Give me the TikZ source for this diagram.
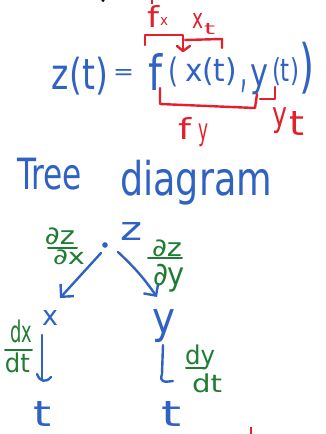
\documentclass[tikz,border=0pt]{standalone}
\usepackage{fontspec}
\usepackage{graphicx}
\setmainfont{DejaVu Sans}
\usetikzlibrary{arrows.meta}
\definecolor{pen}{HTML}{2F62C2}
\definecolor{ink}{HTML}{E3202B}
\definecolor{grn}{HTML}{1F7D33}
\newcommand\fitbox[3]{\resizebox*{#1pt}{#2pt}{#3}}
\begin{document}
\begin{tikzpicture}[x=1pt,y=-1pt,
  txt/.style={anchor=north west,inner sep=0pt,outer sep=0pt},
  stroke/.style={line width=2.4pt,line cap=round,line join=round},
  barb/.style={-{Straight Barb[length=9pt,width=18pt]}}]
\useasboundingbox (0,0) rectangle (326,434);
% top cut-off marks
\fill (103,0.5) circle (1.6);
\draw[ink,line width=2pt] (152,0) -- (152,4);
% equation
\node[txt,pen] (zt) at (52,57) {\fitbox{56}{38}{z(t)}};
\node[txt,pen] (eq) at (113,69) {\fitbox{21}{10}{=}};
\node[txt,pen] (f) at (148,53) {\fitbox{14}{37}{f}};
\node[txt,pen] (lp) at (168,57) {\fitbox{10}{30}{(}};
\node[txt,pen] (xt) at (185,58) {\fitbox{52}{28}{x(t)}};
\node[txt,pen] (cm) at (240,80) {\fitbox{7}{13}{,}};
\node[txt,pen] (yy) at (250,65) {\fitbox{18}{30}{y}};
\node[txt,pen] (tt) at (272,58) {\fitbox{27}{28}{(t)}};
\node[txt,pen] (rp) at (299,42) {\fitbox{15}{52}{)}};
% red labels
\node[txt,ink] (fx1) at (147,5) {\fitbox{12}{22}{f}};
\node[txt,ink] (fx2) at (160,17) {\fitbox{8}{8}{x}};
\node[txt,ink] (xt1) at (192,13) {\fitbox{11}{15}{x}};
\node[txt,ink] (xt2) at (204,23) {\fitbox{11}{11}{t}};
\node[txt,ink] (fy1) at (178,117) {\fitbox{13}{22}{f}};
\node[txt,ink] (fy2) at (198,124) {\fitbox{10}{23}{y}};
\node[txt,ink] (yt1) at (272,108) {\fitbox{15}{26}{y}};
\node[txt,ink] (yt2) at (289,111) {\fitbox{15}{24}{t}};
% red brackets
\draw[stroke,ink] (145,45) -- (145,35) -- (183,35) -- (183,51);
\draw[stroke,ink] (177,46) -- (183,51) -- (190,46);
\draw[stroke,ink] (185,40) -- (222,39) -- (222,48);
\draw[stroke,ink] (160,88) -- (160,104) -- (255,108) -- (257,94);
\draw[stroke,ink] (260,99) -- (275,99) -- (275,87);
% title
\node[txt,pen] (tree) at (17,158) {\fitbox{65}{32}{Tree}};
\node[txt,pen] (diag) at (120,160) {\fitbox{152}{45}{diagram}};
% tree
\node[txt,pen] (z) at (120,222) {\fitbox{22}{18}{z}};
\node[circle,fill=pen,inner sep=2pt] (dot) at (105,245) {};
\coordinate (l0) at (101,253);
\coordinate (l1) at (60,298);
\coordinate (r0) at (118,252);
\coordinate (r1) at (157,297);
\draw[stroke,pen,barb] (l0) -- (l1);
\draw[stroke,pen,barb] (r0) to[bend left=6] (r1);
\node[txt,grn] (pzx1) at (45,228) {\fitbox{30}{17}{∂z}};
\draw[stroke,grn,line width=2pt] (48,248) -- (77,248);
\node[txt,grn] (pzx2) at (53,250) {\fitbox{32}{15}{∂x}};
\node[txt,grn] (pzy1) at (152,240) {\fitbox{30}{17}{∂z}};
\draw[stroke,grn,line width=2pt] (148,258) -- (182,258);
\node[txt,grn] (pzy2) at (153,264) {\fitbox{32}{28}{∂y}};
\node[txt,pen] (x) at (42,310) {\fitbox{16}{15}{x}};
\node[txt,pen] (y) at (152,310) {\fitbox{23}{33}{y}};
\coordinate (a0) at (42,335);
\coordinate (a1) at (42,380);
\draw[stroke,pen] (a0) -- (a1);
\draw[stroke,pen] (37,374) .. controls (40,382) and (46,383) .. (51,377);
\coordinate (b0) at (163,345);
\coordinate (b1) at (162,374);
\draw[stroke,pen] (b0) -- (b1) .. controls (159,383) and (165,382) .. (173,381);
\node[txt,grn] (dx1) at (10,320) {\fitbox{22}{23}{dx}};
\draw[stroke,grn,line width=2pt] (5,350) -- (32,350);
\node[txt,grn] (dx2) at (5,353) {\fitbox{25}{20}{dt}};
\node[txt,grn] (dy1) at (185,345) {\fitbox{30}{25}{dy}};
\draw[stroke,grn,line width=2pt] (186,368) -- (205,368);
\node[txt,grn] (dy2) at (192,374) {\fitbox{30}{19}{dt}};
\node[txt,pen] (tl) at (34,401) {\fitbox{18}{25}{t}};
\node[txt,pen] (tr) at (161,401) {\fitbox{20}{25}{t}};
\draw[ink,line width=2.6pt] (251,427) -- (251,434);
\end{tikzpicture}
\end{document}
